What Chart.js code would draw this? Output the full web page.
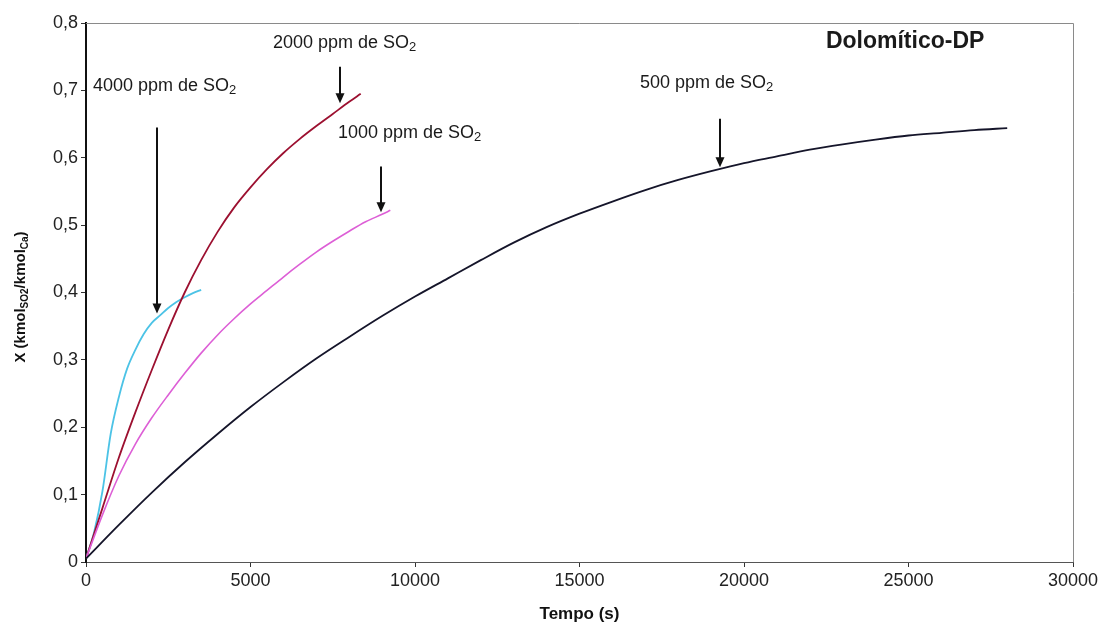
<!DOCTYPE html>
<html>
<head>
<meta charset="utf-8">
<script src="https://cdn.jsdelivr.net/npm/chart.js@4.4.1/dist/chart.umd.min.js"></script>
<style>
  html, body { margin: 0; padding: 0; background: #ffffff; }
  #wrap { width: 1102px; height: 625px; position: relative; }
</style>
</head>
<body>
<div id="wrap"><canvas id="c" width="1102" height="625"></canvas></div>
<script>
// ---- Data ----
const t500  = [0, 1000, 2000, 3000, 4000, 5000, 6000, 7000, 8000, 9000, 10000, 11000, 12000, 13000, 14000, 15000, 16000, 17000, 18000, 19000, 20000, 21000, 22000, 23000, 24000, 25000, 26000, 27000, 28000];
const x500  = [0.005, 0.055, 0.103, 0.148, 0.190, 0.230, 0.267, 0.302, 0.334, 0.365, 0.394, 0.421, 0.448, 0.474, 0.497, 0.517, 0.535, 0.552, 0.567, 0.580, 0.592, 0.602, 0.612, 0.620, 0.627, 0.633, 0.637, 0.641, 0.644];

const t1000 = [0, 500, 1000, 1500, 2000, 2500, 3000, 3500, 4000, 4500, 5000, 5500, 6000, 6500, 7000, 7500, 8000, 8500, 9000, 9250];
const x1000 = [0.005, 0.070, 0.128, 0.175, 0.214, 0.248, 0.280, 0.310, 0.337, 0.361, 0.383, 0.403, 0.423, 0.442, 0.460, 0.476, 0.491, 0.505, 0.516, 0.522];

const t2000 = [0, 500, 1000, 1500, 2000, 2500, 3000, 3500, 4000, 4500, 5000, 5500, 6000, 6500, 7000, 7500, 8000, 8350];
const x2000 = [0.005, 0.080, 0.155, 0.222, 0.285, 0.345, 0.400, 0.448, 0.490, 0.526, 0.556, 0.583, 0.607, 0.628, 0.647, 0.665, 0.683, 0.695];

const t4000 = [0, 250, 500, 750, 1000, 1250, 1500, 1750, 2000, 2250, 2500, 2750, 3000, 3250, 3500];
const x4000 = [0.005, 0.045, 0.105, 0.190, 0.245, 0.287, 0.315, 0.338, 0.355, 0.366, 0.377, 0.386, 0.393, 0.399, 0.404];

const xTicks = [0, 5000, 10000, 15000, 20000, 25000, 30000];
const yTicks = [0, 0.1, 0.2, 0.3, 0.4, 0.5, 0.6, 0.7, 0.8];

// Annotation texts (anchored in data coordinates: left edge, baseline)
const labels = [
  { text: "2000 ppm de SO", sub: "2", t: 5684,  v: 0.763 },
  { text: "4000 ppm de SO", sub: "2", t: 213,   v: 0.699 },
  { text: "1000 ppm de SO", sub: "2", t: 7660,  v: 0.629 },
  { text: "500 ppm de SO",  sub: "2", t: 16839, v: 0.703 }
];
const titleLabel = { text: "Dolom\u00edtico-DP", t: 22490, v: 0.763 };
const arrows = [
  { t: 7720,  from: 0.735, to: 0.681 },
  { t: 2158,  from: 0.645, to: 0.369 },
  { t: 8967,  from: 0.587, to: 0.519 },
  { t: 19270, from: 0.658, to: 0.586 }
];

function pts(ts, xs) { return ts.map((t, i) => ({ x: t, y: xs[i] })); }

const FONT = "'Liberation Sans', Arial, Helvetica, sans-serif";

const decor = {
  id: 'decor',
  beforeDatasetsDraw(chart) {
    const { ctx, chartArea: a } = chart;
    ctx.save();
    ctx.strokeStyle = '#8a8a8a';
    ctx.lineWidth = 1;
    ctx.beginPath();
    ctx.moveTo(a.left, a.top + 0.5);
    ctx.lineTo(a.right + 0.5, a.top + 0.5);
    ctx.lineTo(a.right + 0.5, a.bottom);
    ctx.stroke();
    ctx.restore();
  },
  afterDraw(chart) {
    const { ctx } = chart;
    const sx = chart.scales.x, sy = chart.scales.y;
    ctx.save();
    ctx.fillStyle = '#1a1a1a';
    ctx.textBaseline = 'alphabetic';
    ctx.textAlign = 'left';
    labels.forEach(l => {
      const x = sx.getPixelForValue(l.t), y = sy.getPixelForValue(l.v);
      ctx.font = "18px " + FONT;
      ctx.fillText(l.text, x, y);
      const w = ctx.measureText(l.text).width;
      ctx.font = "13px " + FONT;
      ctx.fillText(l.sub, x + w, y + 3);
    });
    ctx.font = "bold 23px " + FONT;
    ctx.fillText(titleLabel.text, sx.getPixelForValue(titleLabel.t), sy.getPixelForValue(titleLabel.v));

    // arrows
    ctx.strokeStyle = '#111';
    ctx.fillStyle = '#111';
    ctx.lineWidth = 2;
    arrows.forEach(ar => {
      const x = Math.round(sx.getPixelForValue(ar.t));
      const y1 = sy.getPixelForValue(ar.from);
      const y2 = sy.getPixelForValue(ar.to);
      ctx.beginPath();
      ctx.moveTo(x, y1);
      ctx.lineTo(x, y2 - 8);
      ctx.stroke();
      ctx.beginPath();
      ctx.moveTo(x - 4.5, y2 - 10);
      ctx.lineTo(x + 4.5, y2 - 10);
      ctx.lineTo(x, y2);
      ctx.closePath();
      ctx.fill();
    });

    // Y-axis title with subscripts
    const parts = [
      { s: "X (kmol", sub: false },
      { s: "SO2", sub: true },
      { s: "/kmol", sub: false },
      { s: "Ca", sub: true },
      { s: ")", sub: false }
    ];
    const big = "bold 15px " + FONT, small = "bold 10px " + FONT;
    let total = 0;
    parts.forEach(p => { ctx.font = p.sub ? small : big; p.w = ctx.measureText(p.s).width; total += p.w; });
    const cy = 297;
    ctx.translate(25, cy);
    ctx.rotate(-Math.PI / 2);
    ctx.fillStyle = '#111';
    let xx = -total / 2;
    parts.forEach(p => {
      ctx.font = p.sub ? small : big;
      ctx.fillText(p.s, xx, p.sub ? 3 : 0);
      xx += p.w;
    });
    ctx.restore();
  }
};

new Chart(document.getElementById('c'), {
  type: 'scatter',
  data: {
    datasets: [
      { label: '500 ppm',  data: pts(t500, x500),   borderColor: '#15152a', borderWidth: 1.8 },
      { label: '1000 ppm', data: pts(t1000, x1000), borderColor: '#dd5fd6', borderWidth: 1.6 },
      { label: '2000 ppm', data: pts(t2000, x2000), borderColor: '#9c1030', borderWidth: 1.8 },
      { label: '4000 ppm', data: pts(t4000, x4000), borderColor: '#4cc3e6', borderWidth: 1.8 }
    ].map(d => Object.assign(d, { showLine: true, pointRadius: 0, fill: false, cubicInterpolationMode: 'monotone' }))
  },
  options: {
    responsive: false,
    animation: false,
    devicePixelRatio: 1,
    layout: { padding: { top: 23, right: 29, left: 0, bottom: 0 } },
    plugins: { legend: { display: false }, tooltip: { enabled: false } },
    scales: {
      x: {
        type: 'linear', min: 0, max: 30000,
        afterBuildTicks: s => { s.ticks = xTicks.map(v => ({ value: v })); },
        afterFit: s => { s.height = 63; },
        grid: { display: true, drawOnChartArea: false, drawTicks: true, tickLength: 5, color: '#333', lineWidth: 1 },
        border: { display: true, color: '#555', width: 1 },
        ticks: { color: '#222', font: { family: FONT, size: 18 }, padding: 3, maxRotation: 0, callback: v => String(v) },
        title: { display: true, text: 'Tempo (s)', color: '#111', font: { family: FONT, size: 17, weight: 'bold' }, padding: { top: 4, bottom: 0 } }
      },
      y: {
        type: 'linear', min: 0, max: 0.8,
        afterBuildTicks: s => { s.ticks = yTicks.map(v => ({ value: v })); },
        afterFit: s => { s.width = 86; },
        grid: { display: true, drawOnChartArea: false, drawTicks: true, tickLength: 5, color: '#333', lineWidth: 1 },
        border: { display: true, color: '#111', width: 2 },
        ticks: { color: '#222', font: { family: FONT, size: 18 }, padding: 3,
                  callback: v => v === 0 ? '0' : v.toFixed(1).replace('.', ',') }
      }
    }
  },
  plugins: [decor]
});
</script>
</body>
</html>
